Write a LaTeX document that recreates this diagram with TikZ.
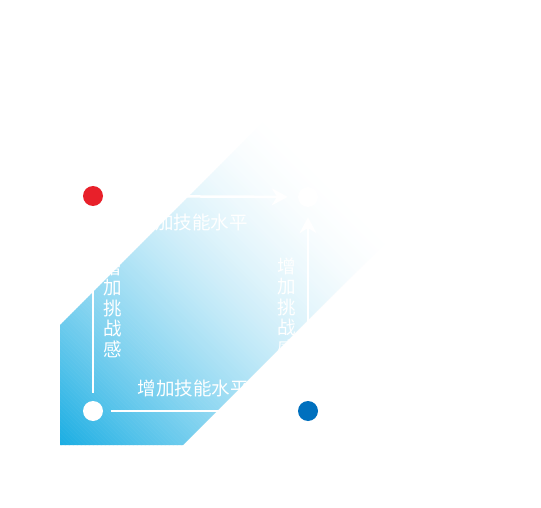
\documentclass[tikz,border=0pt]{standalone}
\usepackage{fontspec}
\newfontfamily\cjk{Noto Sans CJK SC}
\usetikzlibrary{arrows.meta}
\definecolor{bandblue}{HTML}{1BAEE3}
\definecolor{dotred}{HTML}{E8202A}
\definecolor{dotblue}{HTML}{0070BE}
\begin{document}
\begin{tikzpicture}[x=1pt,y=-1pt,
  dot/.style={circle,minimum size=20pt,inner sep=0pt},
  link/.style={white,line width=2.5pt,-{Stealth[length=16pt,width=17pt]},shorten <=8pt,shorten >=10pt},
  lbl/.style={text=white,inner sep=0pt,font=\cjk\fontsize{18.5}{20.5}\selectfont}]
\fill[white] (0,0) rectangle (541,508);
\useasboundingbox (0,0) rectangle (541,508);
\begin{scope}
  \clip (60,445) -- (183,445) -- (583,45) -- (460,-75) -- (60,325) -- cycle;
  \foreach \t in {-400,-396,...,152} {
    \pgfmathsetmacro\q{max(0,min(1,(150-\t)/535))}
    \pgfmathsetmacro\p{100*(\q^1.7)}
    \pgfmathsetmacro\a{0-\t}
    \pgfmathsetmacro\b{600-\t}
    \pgfmathsetmacro\c{595.5-\t}
    \pgfmathsetmacro\d{-4.5-\t}
    \fill[bandblue!\p!white] (0,\a) -- (600,\b) -- (600,\c) -- (0,\d) -- cycle;
  }
\end{scope}
\node[dot,fill=dotred] (red) at (93,196) {};
\node[dot,fill=white] (tr) at (308,197) {};
\node[dot,fill=white] (bl) at (93,411) {};
\node[dot,fill=dotblue] (blue) at (308,411) {};
\draw[link] (red) -- (tr);
\draw[link] (blue) -- (tr);
\draw[link] (bl) -- (red);
\draw[link] (bl) -- (blue);
\node[lbl] (t1) at (192,222) {增加技能水平};
\node[lbl] (t2) at (193,388) {增加技能水平};
\node[lbl,align=center] (v1) at (113,308) {增\\加\\挑\\战\\感};
\node[lbl,align=center] (v2) at (287,307) {增\\加\\挑\\战\\感};
\end{tikzpicture}
\end{document}
